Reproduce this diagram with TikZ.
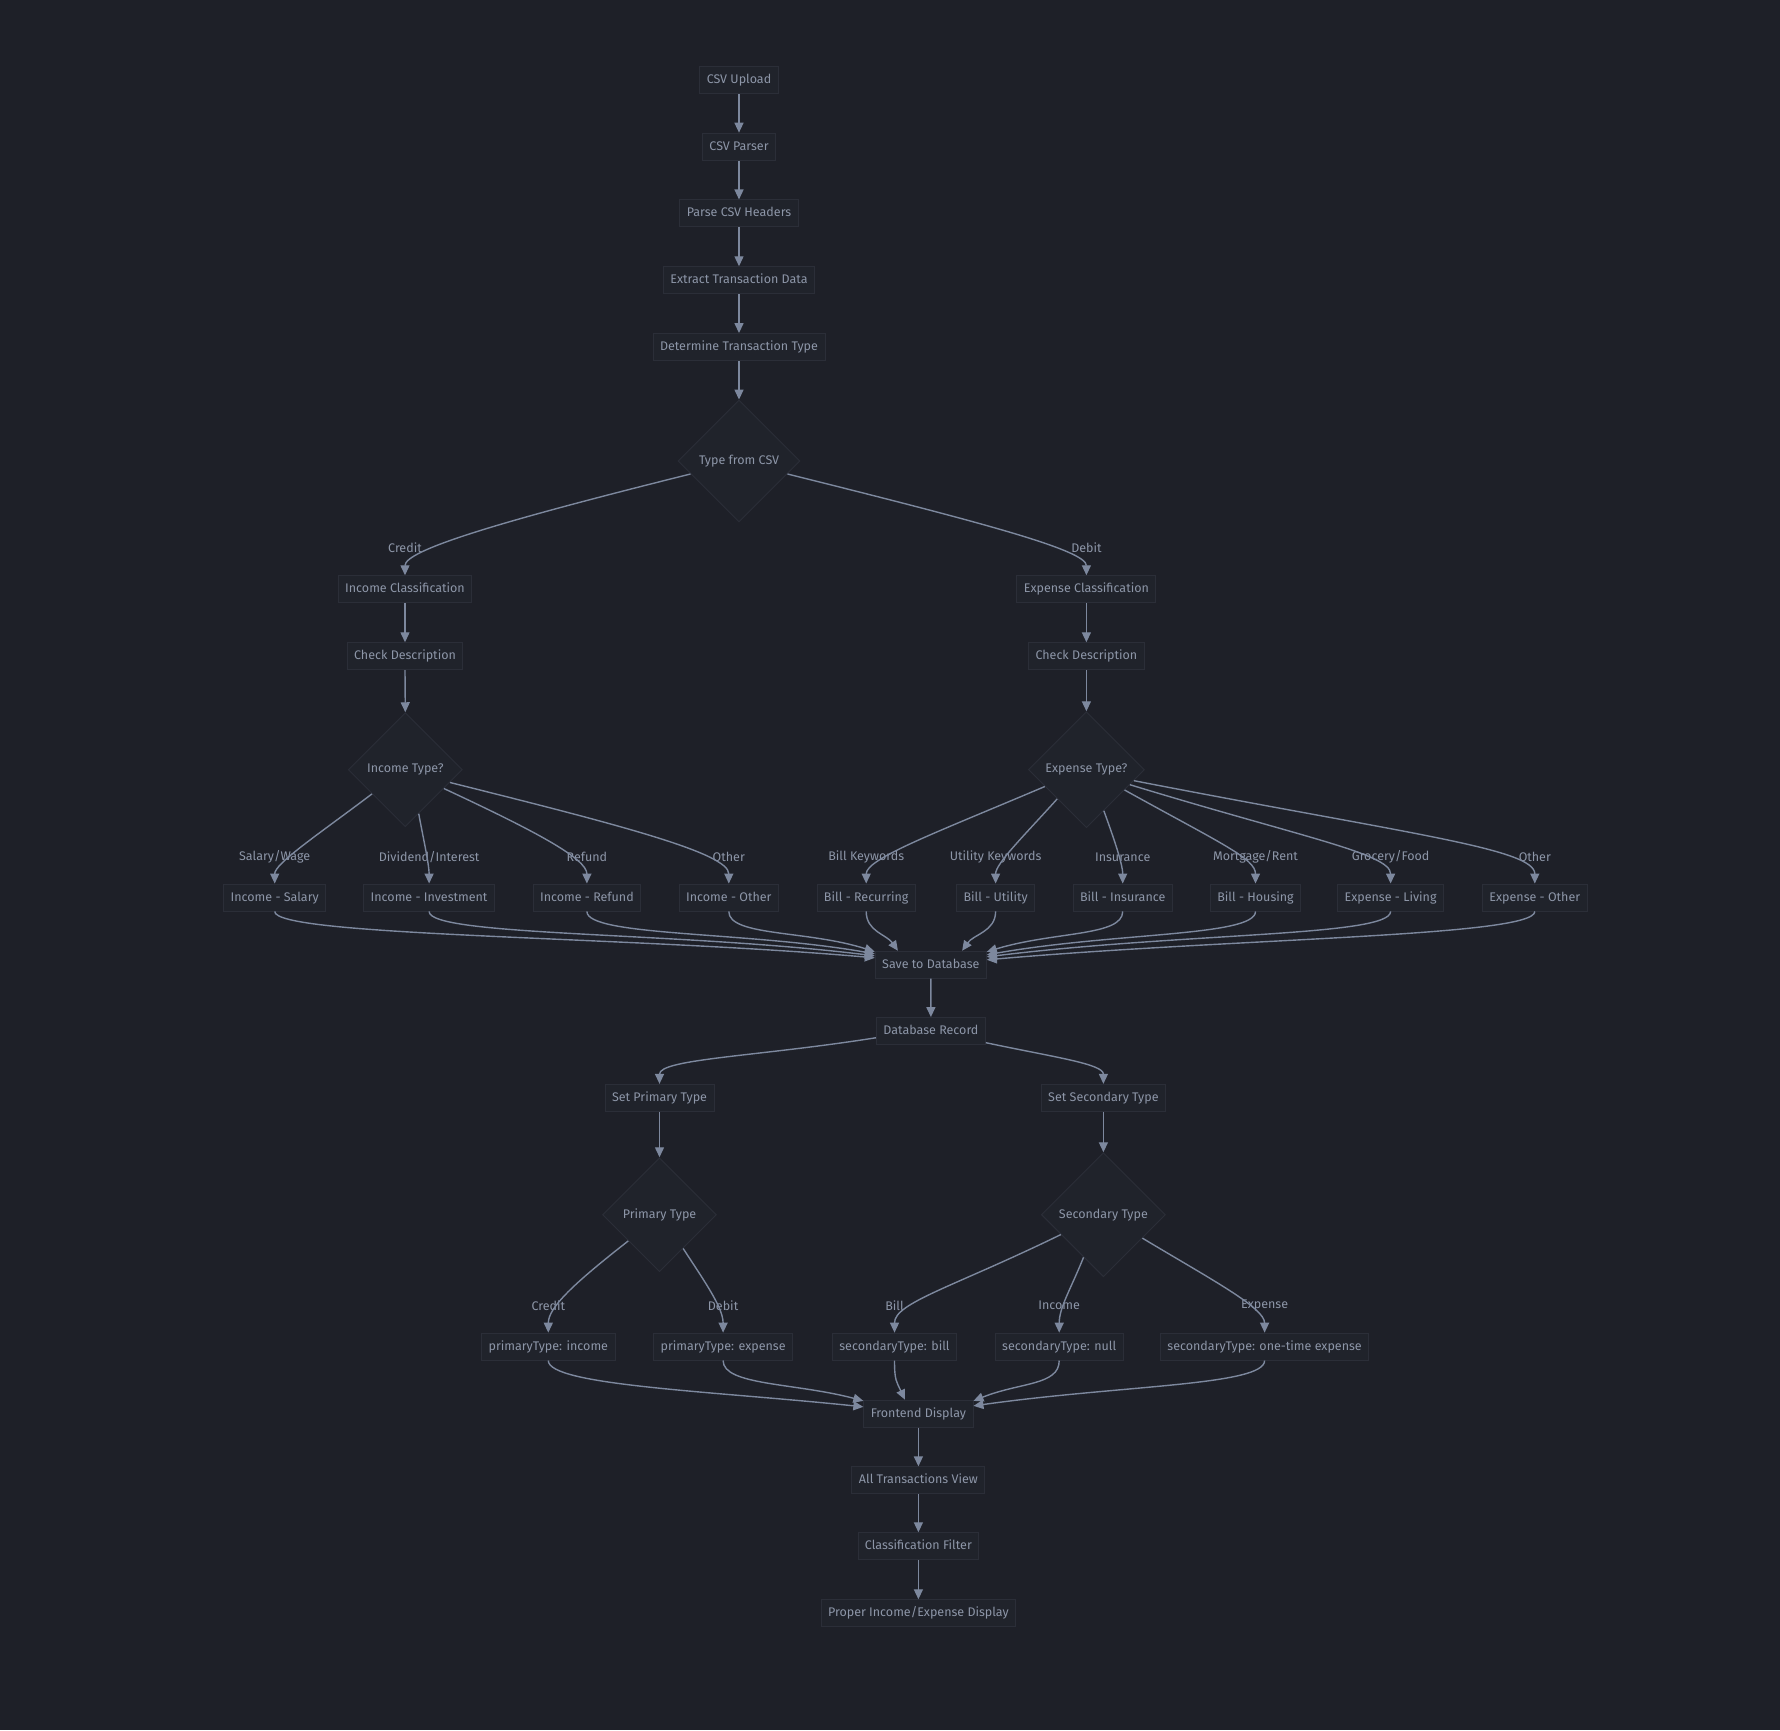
\documentclass[tikz,border=0pt]{standalone}
\usepackage{fontspec}
\setmainfont{Fira Sans}
\usetikzlibrary{arrows.meta,shapes.geometric}
\definecolor{bg}{RGB}{30,32,40}
\definecolor{nodefill}{RGB}{32,35,43}
\definecolor{nodeborder}{RGB}{43,46,56}
\definecolor{txt}{RGB}{141,150,168}
\definecolor{edgec}{RGB}{125,136,158}
\tikzset{
 fnt/.style={font=\fontsize{12.5}{15}\selectfont},
 box/.style={fnt, draw=nodeborder, fill=nodefill, line width=0.9pt, inner xsep=7pt, inner ysep=7.5pt, text height=9.5pt, text depth=2.5pt, text=txt},
 dia/.style={fnt, diamond, draw=nodeborder, fill=nodefill, line width=0.9pt, inner sep=0pt, text=txt, minimum width=#1, minimum height=#1},
 elabel/.style={fnt, text=txt, inner sep=1pt},
 arr/.style={draw=edgec, line width=1.4pt, -{Triangle[length=10pt,width=9pt]}},
}
\begin{document}
\begin{tikzpicture}[x=1pt,y=1pt]
\fill[bg] (0,0) rectangle (1780,-1730);
\useasboundingbox (0,0) rectangle (1780,-1730);

% top chain
\node[box] (up) at (739,-79.8) {CSV Upload};
\node[box] (parser) at (739,-146.6) {CSV Parser};
\node[box] (headers) at (739,-213.4) {Parse CSV Headers};
\node[box] (extract) at (739,-280.2) {Extract Transaction Data};
\node[box] (determine) at (739,-347) {Determine Transaction Type};
\node[dia=122pt] (tfc) at (739,-461) {Type from CSV};

% income side
\node[box] (incclass) at (405,-589.2) {Income Classification};
\node[box] (inccheck) at (405,-656.2) {Check Description};
\node[dia=114pt] (inctype) at (405.3,-769.7) {Income Type?};
% expense side
\node[box] (expclass) at (1086.4,-589.2) {Expense Classification};
\node[box] (expcheck) at (1086.4,-656.2) {Check Description};
\node[dia=116pt] (exptype) at (1086.4,-769.7) {Expense Type?};

% leaves
\node[box] (lsal) at (274.7,-897.5) {Income - Salary};
\node[box] (linv) at (429.1,-897.5) {Income - Investment};
\node[box] (lref) at (586.9,-897.5) {Income - Refund};
\node[box] (lioth) at (728.8,-897.5) {Income - Other};
\node[box] (lrec) at (866.2,-897.5) {Bill - Recurring};
\node[box] (lutil) at (995.6,-897.5) {Bill - Utility};
\node[box] (lins) at (1122.7,-897.5) {Bill - Insurance};
\node[box] (lhou) at (1255.5,-897.5) {Bill - Housing};
\node[box] (lliv) at (1390.6,-897.5) {Expense - Living};
\node[box] (leoth) at (1534.8,-897.5) {Expense - Other};

\node[box] (save) at (930.8,-964.7) {Save to Database};
\node[box] (db) at (930.9,-1031) {Database Record};
\node[box] (setp) at (659.5,-1097.8) {Set Primary Type};
\node[box] (sets) at (1103.4,-1097.8) {Set Secondary Type};
\node[dia=114pt] (ptype) at (659.5,-1214.7) {Primary Type};
\node[dia=124pt] (stype) at (1103.4,-1214.7) {Secondary Type};

\node[box] (pinc) at (548.3,-1346.6) {primaryType: income};
\node[box] (pexp) at (723.1,-1346.6) {primaryType: expense};
\node[box] (sbill) at (894.5,-1346.6) {secondaryType: bill};
\node[box] (snull) at (1059.2,-1346.6) {secondaryType: null};
\node[box] (sexp) at (1264.6,-1346.6) {secondaryType: one-time expense};

\node[box] (fe) at (918.4,-1413.6) {Frontend Display};
\node[box] (atv) at (918.4,-1480.3) {All Transactions View};
\node[box] (cf) at (918.4,-1546.2) {Classification Filter};
\node[box] (proper) at (918.4,-1613.2) {Proper Income/Expense Display};

% edge labels
\node[elabel] at (405,-548) {Credit};
\node[elabel] at (1086.4,-548) {Debit};
\node[elabel] at (274.7,-857) {Salary/Wage};
\node[elabel] at (429.1,-857) {Dividend/Interest};
\node[elabel] at (586.9,-857) {Refund};
\node[elabel] at (728.8,-857) {Other};
\node[elabel] at (866.2,-857) {Bill Keywords};
\node[elabel] at (995.6,-857) {Utility Keywords};
\node[elabel] at (1122.7,-857) {Insurance};
\node[elabel] at (1255.5,-857) {Mortgage/Rent};
\node[elabel] at (1390.6,-857) {Grocery/Food};
\node[elabel] at (1534.8,-857) {Other};
\node[elabel] at (548.3,-1305.5) {Credit};
\node[elabel] at (723.1,-1305.5) {Debit};
\node[elabel] at (894.5,-1305.5) {Bill};
\node[elabel] at (1059.2,-1305.5) {Income};
\node[elabel] at (1264.6,-1305.5) {Expense};

% straight edges
\draw[arr] (up.south) -- (parser.north);
\draw[arr] (parser.south) -- (headers.north);
\draw[arr] (headers.south) -- (extract.north);
\draw[arr] (extract.south) -- (determine.north);
\draw[arr] (determine.south) -- (tfc.north);
\draw[arr] (incclass.south) -- (inccheck.north);
\draw[arr] (inccheck.south) -- (inctype.north);
\draw[arr] (expclass.south) -- (expcheck.north);
\draw[arr] (expcheck.south) -- (exptype.north);
\draw[arr] (save.south) -- (db.north);
\draw[arr] (setp.south) -- (ptype.north);
\draw[arr] (sets.south) -- (stype.north);
\draw[arr] (fe.south) -- (atv.north);
\draw[arr] (atv.south) -- (cf.north);
\draw[arr] (cf.south) -- (proper.north);

% type from csv
\draw[arr] (tfc.195) to[out=194,in=90,out distance=200pt,in distance=25pt] (incclass.north);
\draw[arr] (tfc.345) to[out=-14,in=90,out distance=200pt,in distance=25pt] (expclass.north);

% income type
\draw[arr] (inctype.216) to[out=217,in=90,out distance=70pt,in distance=20pt] (lsal.north);
\draw[arr] (inctype.287) to[out=-80,in=90,out distance=20pt,in distance=20pt] (linv.north);
\draw[arr] (inctype.334) to[out=-25,in=90,out distance=100pt,in distance=25pt] (lref.north);
\draw[arr] (inctype.344) to[out=-14,in=90,out distance=180pt,in distance=30pt] (lioth.north);

% expense type
\draw[arr] (exptype.202) to[out=203,in=90,out distance=120pt,in distance=25pt] (lrec.north);
\draw[arr] (exptype.225) to[out=228,in=90,out distance=50pt,in distance=20pt] (lutil.north);
\draw[arr] (exptype.293) to[out=-70,in=90,out distance=25pt,in distance=20pt] (lins.north);
\draw[arr] (exptype.332) to[out=-29,in=90,out distance=110pt,in distance=25pt] (lhou.north);
\draw[arr] (exptype.341) to[out=-17,in=90,out distance=180pt,in distance=30pt] (lliv.north);
\draw[arr] (exptype.347) to[out=-11,in=90,out distance=280pt,in distance=35pt] (leoth.north);

% leaves to save
\draw[arr] (lsal.south) to[out=-90,in=175,out distance=25pt,in distance=250pt] (save.173.5);
\draw[arr] (linv.south) to[out=-90,in=173,out distance=25pt,in distance=200pt] (save.171.5);
\draw[arr] (lref.south) to[out=-90,in=170,out distance=25pt,in distance=130pt] (save.169.5);
\draw[arr] (lioth.south) to[out=-90,in=162,out distance=25pt,in distance=70pt] (save.167);
\draw[arr] (lrec.south) to[out=-90,in=125,out distance=20pt,in distance=20pt] (save.157);
\draw[arr] (lutil.south) to[out=-90,in=55,out distance=20pt,in distance=20pt] (save.24);
\draw[arr] (lins.south) to[out=-90,in=17,out distance=25pt,in distance=70pt] (save.13);
\draw[arr] (lhou.south) to[out=-90,in=10,out distance=25pt,in distance=130pt] (save.10.5);
\draw[arr] (lliv.south) to[out=-90,in=7,out distance=25pt,in distance=200pt] (save.8);
\draw[arr] (leoth.south) to[out=-90,in=5,out distance=25pt,in distance=250pt] (save.5.5);

% db record
\draw[arr] (db.187) to[out=189,in=90,out distance=120pt,in distance=25pt] (setp.north);
\draw[arr] (db.348) to[out=-12,in=90,out distance=70pt,in distance=20pt] (sets.north);

% primary / secondary
\draw[arr] (ptype.220) to[out=218,in=90,out distance=70pt,in distance=25pt] (pinc.north);
\draw[arr] (ptype.305) to[out=-57,in=90,out distance=40pt,in distance=25pt] (pexp.north);
\draw[arr] (stype.205) to[out=206,in=90,out distance=120pt,in distance=30pt] (sbill.north);
\draw[arr] (stype.245) to[out=248,in=90,out distance=35pt,in distance=25pt] (snull.north);
\draw[arr] (stype.329) to[out=-31,in=90,out distance=80pt,in distance=25pt] (sexp.north);

% to frontend
\draw[arr] (pinc.south) to[out=-90,in=174,out distance=25pt,in distance=150pt] (fe.173);
\draw[arr] (pexp.south) to[out=-90,in=165,out distance=25pt,in distance=70pt] (fe.167);
\draw[arr] (sbill.south) to[out=-90,in=115,out distance=20pt,in distance=20pt] (fe.134);
\draw[arr] (snull.south) to[out=-90,in=22,out distance=25pt,in distance=50pt] (fe.13);
\draw[arr] (sexp.south) to[out=-90,in=8,out distance=25pt,in distance=150pt] (fe.8);
\end{tikzpicture}
\end{document}
